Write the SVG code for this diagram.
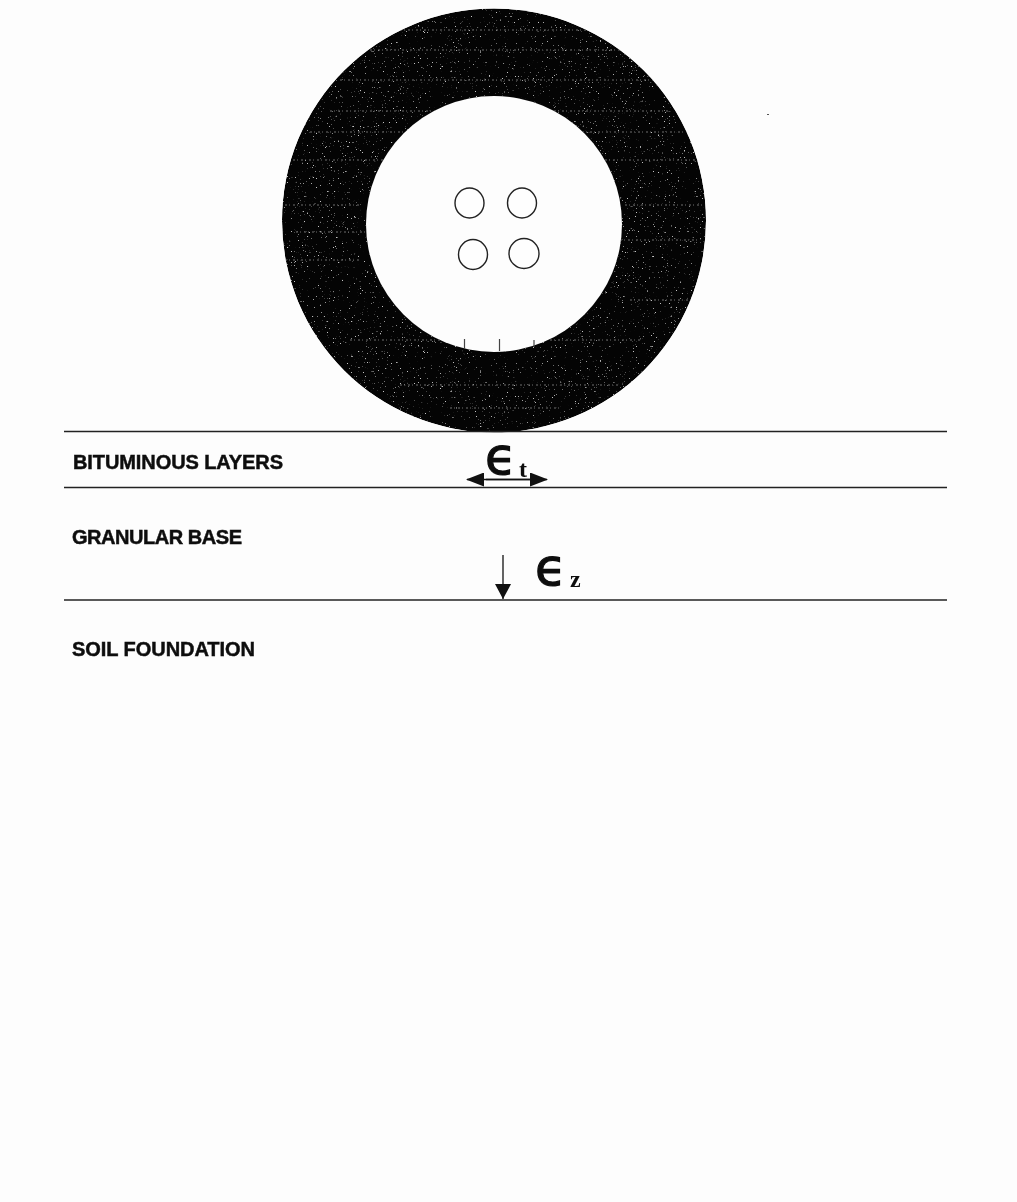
<svg xmlns="http://www.w3.org/2000/svg" width="1017" height="1202" viewBox="0 0 1017 1202">
<style>
.lbl{font-family:"Liberation Sans",Arial,sans-serif;font-weight:bold;font-size:20px;fill:#111;stroke:#111;stroke-width:.5px}
.eps{font-family:"DejaVu Sans",sans-serif;font-size:51px;fill:#111;stroke:#111;stroke-width:1.2px}
.sub{font-family:"Liberation Serif",serif;font-weight:bold;font-size:24px;fill:#111}
.hole{fill:#fefefe;stroke:#222;stroke-width:1.4}
.layer{stroke:#222;stroke-width:1.3;fill:none}
.tick{stroke:#444;stroke-width:1.2}
.spk{stroke:#6e6e6e;stroke-width:1;fill:none}
</style>
<defs>
<filter id="noise" x="0" y="0" width="100%" height="100%">
<feTurbulence type="fractalNoise" baseFrequency="0.55 0.8" numOctaves="2" seed="7"/>
<feColorMatrix type="matrix" values="0 0 0 0 .55  0 0 0 0 .55  0 0 0 0 .55  9 0 0 0 -6.200"/>
</filter>
<filter id="soft" x="-5%" y="-20%" width="110%" height="140%"><feGaussianBlur stdDeviation=".45"/></filter>
<mask id="ring"><circle cx="494" cy="220.500" r="212" fill="#fff"/><circle cx="494" cy="224" r="128" fill="#000"/></mask>
<marker id="ah" markerWidth="18" markerHeight="14" refX="17" refY="7" orient="auto" markerUnits="userSpaceOnUse"><path d="M0 0L18 7L0 14Z" fill="#111"/></marker>
<marker id="ad" markerWidth="16" markerHeight="16" refX="15" refY="8" orient="auto" markerUnits="userSpaceOnUse"><path d="M0 0L15 8L0 16Z" fill="#111"/></marker>
</defs>
<rect width="1017" height="1202" fill="#fdfdfd"/>
<g id="wheel">
<circle cx="494" cy="220.500" r="212" fill="#040404" mask="url(#ring)"/>
<g mask="url(#ring)">
<rect x="280" y="5" width="430" height="430" filter="url(#noise)"/>
<g class="spk" stroke-dasharray="2 2 1 3">
<path d="M400 30H640M370 50H660M340 80H680M310 132H690M285 160H700M285 205H360M625 205H705M285 260H360M630 300H700M400 385H620M450 408H560M330 111H670M296 232H370M620 240H700M350 340H640"/>
</g>
</g>
</g>
<g id="valve-holes">
<ellipse class="hole" cx="469.500" cy="203" rx="14.500" ry="15"/>
<ellipse class="hole" cx="522" cy="203" rx="14.500" ry="15"/>
<ellipse class="hole" cx="473" cy="254.500" rx="14.500" ry="15"/>
<ellipse class="hole" cx="524" cy="253.500" rx="15" ry="15"/>
</g>
<g id="tread-ticks">
<path class="tick" d="M464.500 339V349M499.500 339V351M534 340V347"/>
</g>
<g id="layers">
<path class="layer" d="M64 431.500H947"/>
<path class="layer" d="M64 487.500H947"/>
<path class="layer" d="M64 600H947"/>
</g>
<g id="connectors">
<path d="M486 479.500H547" stroke="#111" stroke-width="1.400" fill="none" marker-end="url(#ah)"/>
<path d="M530 479.500H467" stroke="#111" stroke-width="1.400" fill="none" marker-end="url(#ah)"/>
<path d="M503 555V599" stroke="#111" stroke-width="1.300" fill="none" marker-end="url(#ad)"/>
</g>
<g id="label-bituminous" filter="url(#soft)"><text class="lbl" x="73" y="469" textLength="210">BITUMINOUS LAYERS</text></g>
<g id="label-granular" filter="url(#soft)"><text class="lbl" x="72" y="544" textLength="170">GRANULAR BASE</text></g>
<g id="label-soil" filter="url(#soft)"><text class="lbl" x="72" y="656" textLength="183">SOIL FOUNDATION</text></g>
<g id="strain-t" filter="url(#soft)"><text class="eps" x="485" y="474">ϵ</text><text class="sub" x="519" y="477" font-size="22">t</text></g>
<g id="strain-z" filter="url(#soft)"><text class="eps" x="535" y="585">ϵ</text><text class="sub" x="570" y="587">z</text></g>
<rect x="767" y="114" width="2" height="1" fill="#555"/>
</svg>
